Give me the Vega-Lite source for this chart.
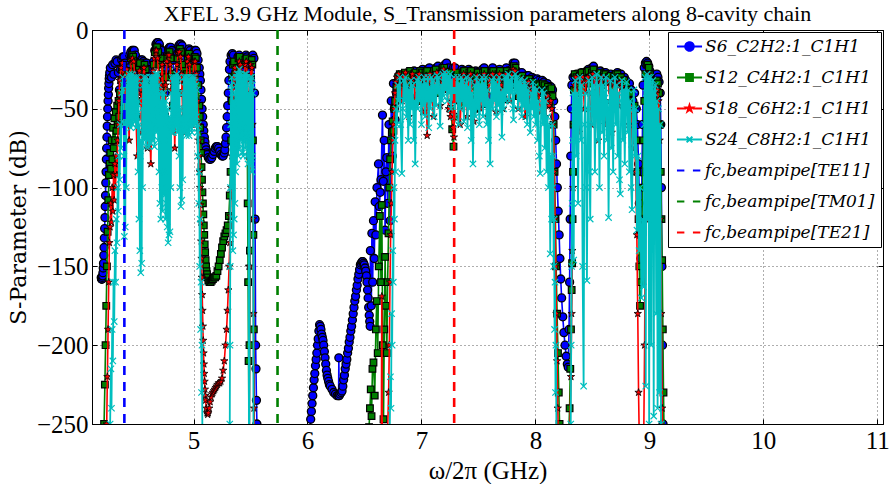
{
  "$schema": "https://vega.github.io/schema/vega-lite/v6.json",
  "width": 791,
  "height": 394,
  "autosize": {"type": "none"},
  "padding": {"left": 92, "top": 30, "right": 10, "bottom": 60},
  "background": "white",
  "title": {
    "text": "XFEL 3.9 GHz Module, S_Transmission parameters along 8-cavity chain",
    "font": "Liberation Serif", "fontSize": 22, "fontWeight": "normal", "color": "#000", "offset": 4, "dy": 12, "anchor": "middle"
  },
  "config": {
    "view": {"stroke": "#000", "strokeWidth": 1},
    "axis": {
      "domainColor": "#000", "tickColor": "#000", "labelColor": "#000", "titleColor": "#000",
      "gridColor": "#000", "gridDash": [1, 3], "gridOpacity": 0.8, "gridWidth": 0.8,
      "labelFont": "Liberation Serif", "labelFontSize": 25,
      "titleFont": "Liberation Serif", "titleFontSize": 25, "titleFontWeight": "normal",
      "tickSize": -5, "tickWidth": 1
    }
  },
  "datasets": {
    "s6": [
      {"f":4.19,"d":-157},{"f":4.1925,"d":-158},{"f":4.195,"d":-158},{"f":4.1975,"d":-158},{"f":4.2,"d":-157},{"f":4.2025,"d":-156},{"f":4.205,"d":-154},{"f":4.2075,"d":-151},{"f":4.21,"d":-148},{"f":4.2125,"d":-143},{"f":4.215,"d":-138},{"f":4.2175,"d":-132},{"f":4.22,"d":-126},{"f":4.2225,"d":-119},{"f":4.225,"d":-112},{"f":4.2275,"d":-105},{"f":4.23,"d":-97},{"f":4.2325,"d":-90},{"f":4.235,"d":-82},{"f":4.2375,"d":-75},{"f":4.24,"d":-68},{"f":4.2425,"d":-61},{"f":4.245,"d":-55},{"f":4.2475,"d":-50},{"f":4.25,"d":-45},{"f":4.2525,"d":-41},{"f":4.255,"d":-37},{"f":4.2575,"d":-34},{"f":4.26,"d":-31},{"f":4.2625,"d":-29},{"f":4.265,"d":-27},
      {"f":4.27,"d":-24},{"f":4.28,"d":-30},{"f":4.29,"d":-22},{"f":4.3,"d":-28},{"f":4.31,"d":-21},{"f":4.32,"d":-19},{"f":4.33,"d":-20},{"f":4.34,"d":-27},{"f":4.35,"d":-38},{"f":4.36,"d":-25},{"f":4.37,"d":-19},{"f":4.38,"d":-17},{"f":4.39,"d":-17},{"f":4.4,"d":-21},{"f":4.41,"d":-30},{"f":4.42,"d":-40},{"f":4.43,"d":-24},{"f":4.44,"d":-16},{"f":4.45,"d":-14},{"f":4.46,"d":-13},{"f":4.47,"d":-13},{"f":4.48,"d":-13},{"f":4.49,"d":-16},{"f":4.5,"d":-24},{"f":4.51,"d":-38},{"f":4.52,"d":-30},{"f":4.53,"d":-22},{"f":4.54,"d":-19},{"f":4.55,"d":-19},{"f":4.56,"d":-20},{"f":4.57,"d":-22},{"f":4.58,"d":-21},{"f":4.59,"d":-21},{"f":4.6,"d":-25},{"f":4.61,"d":-34},{"f":4.62,"d":-45},{"f":4.63,"d":-42},{"f":4.64,"d":-30},{"f":4.65,"d":-20},{"f":4.66,"d":-13},{"f":4.67,"d":-9},{"f":4.68,"d":-8},{"f":4.69,"d":-8},{"f":4.7,"d":-9},{"f":4.71,"d":-12},{"f":4.72,"d":-13},{"f":4.73,"d":-17},{"f":4.74,"d":-28},{"f":4.75,"d":-40},{"f":4.76,"d":-25},{"f":4.77,"d":-16},{"f":4.78,"d":-12},{"f":4.79,"d":-11},{"f":4.8,"d":-11},{"f":4.81,"d":-13},{"f":4.82,"d":-19},{"f":4.83,"d":-32},{"f":4.84,"d":-45},{"f":4.85,"d":-27},{"f":4.86,"d":-15},{"f":4.87,"d":-10},{"f":4.88,"d":-9},{"f":4.89,"d":-9},{"f":4.9,"d":-10},{"f":4.91,"d":-14},{"f":4.92,"d":-24},{"f":4.93,"d":-38},{"f":4.94,"d":-22},{"f":4.95,"d":-14},{"f":4.96,"d":-12},{"f":4.97,"d":-13},{"f":4.98,"d":-17},{"f":4.99,"d":-27},{"f":5.0,"d":-18},{"f":5.01,"d":-13},{"f":5.02,"d":-13},{"f":5.03,"d":-15},{"f":5.04,"d":-19},{"f":5.05,"d":-24},
      {"f":5.055,"d":-28},{"f":5.06,"d":-32},{"f":5.065,"d":-38},{"f":5.07,"d":-44},{"f":5.075,"d":-50},{"f":5.08,"d":-55},{"f":5.085,"d":-60},{"f":5.09,"d":-64},{"f":5.095,"d":-68},{"f":5.1,"d":-71},{"f":5.105,"d":-74},{"f":5.11,"d":-76},{"f":5.115,"d":-78},{"f":5.12,"d":-79},{"f":5.13,"d":-81},{"f":5.14,"d":-82},{"f":5.15,"d":-82},{"f":5.16,"d":-81},{"f":5.17,"d":-79},{"f":5.18,"d":-77},{"f":5.19,"d":-75},{"f":5.2,"d":-74},{"f":5.21,"d":-74},{"f":5.22,"d":-75},{"f":5.23,"d":-77},{"f":5.24,"d":-79},{"f":5.25,"d":-80},{"f":5.26,"d":-80},{"f":5.27,"d":-78},{"f":5.275,"d":-76},{"f":5.28,"d":-72},{"f":5.285,"d":-68},{"f":5.29,"d":-62},{"f":5.295,"d":-55},{"f":5.3,"d":-48},{"f":5.305,"d":-40},{"f":5.31,"d":-32},{"f":5.315,"d":-25},{"f":5.32,"d":-20},{"f":5.33,"d":-16},
      {"f":5.34,"d":-15},{"f":5.35,"d":-16},{"f":5.36,"d":-22},{"f":5.37,"d":-35},{"f":5.38,"d":-24},{"f":5.39,"d":-17},{"f":5.4,"d":-16},{"f":5.41,"d":-18},{"f":5.42,"d":-28},{"f":5.43,"d":-45},{"f":5.44,"d":-25},{"f":5.45,"d":-17},{"f":5.46,"d":-16},{"f":5.47,"d":-17},{"f":5.48,"d":-20},{"f":5.49,"d":-30},{"f":5.5,"d":-22},{"f":5.51,"d":-17},{"f":5.52,"d":-16},{"f":5.53,"d":-18},{"f":5.535,"d":-40},{"f":5.54,"d":-120},{"f":5.545,"d":-200},{"f":5.548,"d":-215},{"f":5.552,"d":-235},{"f":5.556,"d":-250},{"f":5.56,"d":-262},{"f":5.8,"d":-330},{"f":6.012,"d":-262},
      {"f":6.02,"d":-253},{"f":6.028,"d":-247},{"f":6.034,"d":-242},{"f":6.04,"d":-237},{"f":6.046,"d":-232},{"f":6.052,"d":-227},{"f":6.058,"d":-222},{"f":6.064,"d":-218},{"f":6.07,"d":-213},{"f":6.076,"d":-209},{"f":6.082,"d":-205},{"f":6.088,"d":-200},{"f":6.094,"d":-196},{"f":6.1,"d":-191},{"f":6.106,"d":-187},{"f":6.112,"d":-188},{"f":6.118,"d":-190},{"f":6.124,"d":-193},{"f":6.13,"d":-195},{"f":6.136,"d":-197},{"f":6.142,"d":-200},{"f":6.148,"d":-204},{"f":6.154,"d":-208},{"f":6.16,"d":-212},{"f":6.166,"d":-216},{"f":6.172,"d":-219},{"f":6.178,"d":-221},{"f":6.185,"d":-223},{"f":6.192,"d":-225},{"f":6.2,"d":-226},{"f":6.215,"d":-228},{"f":6.23,"d":-230},{"f":6.245,"d":-231},{"f":6.26,"d":-232},{"f":6.273,"d":-232},{"f":6.275,"d":-208},{"f":6.278,"d":-232},{"f":6.285,"d":-231},{"f":6.295,"d":-230},{"f":6.303,"d":-229},{"f":6.31,"d":-226},{"f":6.317,"d":-222},{"f":6.324,"d":-219},{"f":6.331,"d":-215},{"f":6.338,"d":-212},{"f":6.345,"d":-209},{"f":6.352,"d":-205},{"f":6.359,"d":-202},{"f":6.366,"d":-198},{"f":6.373,"d":-195},{"f":6.38,"d":-191},{"f":6.387,"d":-188},{"f":6.394,"d":-184},{"f":6.401,"d":-180},{"f":6.408,"d":-176},{"f":6.415,"d":-172},{"f":6.422,"d":-169},{"f":6.429,"d":-165},{"f":6.436,"d":-162},{"f":6.443,"d":-158},{"f":6.45,"d":-155},{"f":6.457,"d":-152},{"f":6.464,"d":-149},{"f":6.471,"d":-148},{"f":6.479,"d":-147},{"f":6.486,"d":-147},{"f":6.492,"d":-148},{"f":6.498,"d":-149},{"f":6.505,"d":-151},{"f":6.511,"d":-153},{"f":6.517,"d":-156},{"f":6.522,"d":-160},{"f":6.527,"d":-165},{"f":6.532,"d":-170},{"f":6.537,"d":-176},{"f":6.542,"d":-181},{"f":6.546,"d":-185},{"f":6.55,"d":-188},
      {"f":6.552,"d":-140},{"f":6.56,"d":-175},{"f":6.565,"d":-129},{"f":6.572,"d":-160},{"f":6.579,"d":-121},{"f":6.586,"d":-145},{"f":6.594,"d":-109},{"f":6.6,"d":-130},{"f":6.61,"d":-100},{"f":6.623,"d":-85},{"f":6.63,"d":-112},{"f":6.638,"d":-103},{"f":6.645,"d":-95},{"f":6.658,"d":-54},{"f":6.665,"d":-96},{"f":6.673,"d":-70},{"f":6.681,"d":-127},{"f":6.688,"d":-90},{"f":6.696,"d":-81},{"f":6.705,"d":-110},{"f":6.715,"d":-60},{"f":6.725,"d":-121},{"f":6.735,"d":-45},{"f":6.745,"d":-80},{"f":6.754,"d":-34},{"f":6.762,"d":-50},{"f":6.769,"d":-57},{"f":6.78,"d":-40},{"f":6.798,"d":-37},{"f":6.81,"d":-30},{"f":6.827,"d":-32},
      {"f":6.845,"d":-28},{"f":6.86,"d":-36},{"f":6.875,"d":-29},{"f":6.89,"d":-27},{"f":6.905,"d":-33},{"f":6.92,"d":-28},{"f":6.935,"d":-26},{"f":6.95,"d":-31},{"f":6.965,"d":-42},{"f":6.98,"d":-29},{"f":6.995,"d":-26},{"f":7.01,"d":-25},{"f":7.025,"d":-30},{"f":7.04,"d":-27},{"f":7.055,"d":-25},{"f":7.07,"d":-24},{"f":7.085,"d":-29},{"f":7.1,"d":-38},{"f":7.115,"d":-27},{"f":7.13,"d":-24},{"f":7.145,"d":-23},{"f":7.16,"d":-26},{"f":7.175,"d":-33},{"f":7.19,"d":-25},{"f":7.205,"d":-22},{"f":7.22,"d":-21},{"f":7.235,"d":-24},{"f":7.25,"d":-30},{"f":7.265,"d":-26},{"f":7.28,"d":-24},{"f":7.295,"d":-24},{"f":7.31,"d":-28},{"f":7.325,"d":-40},{"f":7.34,"d":-28},{"f":7.355,"d":-25},{"f":7.37,"d":-26},{"f":7.385,"d":-32},{"f":7.4,"d":-27},{"f":7.415,"d":-25},{"f":7.43,"d":-26},{"f":7.445,"d":-35},{"f":7.46,"d":-28},{"f":7.475,"d":-26},{"f":7.49,"d":-27},{"f":7.505,"d":-33},{"f":7.52,"d":-27},{"f":7.535,"d":-25},{"f":7.55,"d":-24},{"f":7.565,"d":-29},{"f":7.58,"d":-42},{"f":7.595,"d":-28},{"f":7.61,"d":-26},{"f":7.625,"d":-24},{"f":7.64,"d":-27},{"f":7.655,"d":-33},{"f":7.67,"d":-26},{"f":7.685,"d":-25},{"f":7.7,"d":-27},{"f":7.715,"d":-36},{"f":7.73,"d":-28},{"f":7.745,"d":-24},{"f":7.76,"d":-26},{"f":7.775,"d":-31},{"f":7.79,"d":-25},{"f":7.805,"d":-21},{"f":7.82,"d":-21},{"f":7.835,"d":-26},{"f":7.85,"d":-34},{"f":7.865,"d":-28},{"f":7.88,"d":-27},{"f":7.895,"d":-30},{"f":7.91,"d":-38},{"f":7.925,"d":-29},{"f":7.94,"d":-29},{"f":7.955,"d":-32},{"f":7.97,"d":-30},{"f":7.985,"d":-31},{"f":8.0,"d":-35},{"f":8.015,"d":-31},{"f":8.03,"d":-32},{"f":8.045,"d":-36},{"f":8.06,"d":-32},{"f":8.075,"d":-33},{"f":8.09,"d":-35},{"f":8.105,"d":-34},{"f":8.12,"d":-36},{"f":8.135,"d":-36},{"f":8.15,"d":-38},{"f":8.16,"d":-45},
      {"f":8.17,"d":-55},{"f":8.178,"d":-70},{"f":8.185,"d":-85},{"f":8.192,"d":-100},{"f":8.2,"d":-115},{"f":8.208,"d":-130},{"f":8.215,"d":-145},{"f":8.222,"d":-158},{"f":8.23,"d":-170},{"f":8.24,"d":-182},{"f":8.25,"d":-192},{"f":8.26,"d":-200},{"f":8.27,"d":-207},{"f":8.28,"d":-212},{"f":8.288,"d":-214},
      {"f":8.295,"d":-190},{"f":8.3,"d":-160},{"f":8.305,"d":-120},{"f":8.31,"d":-80},{"f":8.315,"d":-50},{"f":8.32,"d":-35},{"f":8.33,"d":-30},
      {"f":8.345,"d":-29},{"f":8.36,"d":-28},{"f":8.375,"d":-33},{"f":8.39,"d":-28},{"f":8.405,"d":-27},{"f":8.42,"d":-34},{"f":8.435,"d":-28},{"f":8.45,"d":-26},{"f":8.465,"d":-25},{"f":8.48,"d":-30},{"f":8.495,"d":-24},{"f":8.51,"d":-23},{"f":8.525,"d":-26},{"f":8.54,"d":-33},{"f":8.555,"d":-27},{"f":8.57,"d":-26},{"f":8.585,"d":-31},{"f":8.6,"d":-27},{"f":8.615,"d":-27},{"f":8.63,"d":-30},{"f":8.645,"d":-29},{"f":8.66,"d":-28},{"f":8.675,"d":-33},{"f":8.69,"d":-29},{"f":8.705,"d":-28},{"f":8.72,"d":-27},{"f":8.735,"d":-28},{"f":8.75,"d":-28},{"f":8.765,"d":-31},{"f":8.78,"d":-30},{"f":8.795,"d":-32},{"f":8.81,"d":-36},{"f":8.825,"d":-34},{"f":8.84,"d":-38},{"f":8.855,"d":-45},{"f":8.87,"d":-40},{"f":8.885,"d":-50},
      {"f":8.895,"d":-60},{"f":8.905,"d":-85},{"f":8.912,"d":-110},{"f":8.918,"d":-130},{"f":8.925,"d":-145},{"f":8.93,"d":-120},{"f":8.935,"d":-90},{"f":8.94,"d":-60},{"f":8.945,"d":-35},{"f":8.955,"d":-24},{"f":8.965,"d":-21},{"f":8.975,"d":-20},{"f":8.985,"d":-21},{"f":8.995,"d":-23},{"f":9.005,"d":-26},{"f":9.015,"d":-30},{"f":9.025,"d":-36},{"f":9.035,"d":-44},{"f":9.045,"d":-38},{"f":9.055,"d":-30},{"f":9.065,"d":-28},{"f":9.075,"d":-30},{"f":9.085,"d":-33},{"f":9.095,"d":-40},{"f":9.1,"d":-60},{"f":9.105,"d":-100},{"f":9.11,"d":-150},{"f":9.115,"d":-200},{"f":9.12,"d":-250},{"f":9.125,"d":-262}
    ],
    "s12": [
      {"f":4.2,"d":-300},{"f":4.215,"d":-250},{"f":4.222,"d":-225},{"f":4.228,"d":-200},{"f":4.234,"d":-175},{"f":4.24,"d":-150},{"f":4.246,"d":-128},{"f":4.252,"d":-108},{"f":4.258,"d":-92},{"f":4.264,"d":-85},{"f":4.27,"d":-78},{"f":4.276,"d":-88},{"f":4.282,"d":-70},{"f":4.288,"d":-82},{"f":4.294,"d":-62},{"f":4.3,"d":-75},{"f":4.306,"d":-56},{"f":4.312,"d":-70},{"f":4.318,"d":-52},{"f":4.324,"d":-64},{"f":4.33,"d":-48},{"f":4.336,"d":-60},{"f":4.342,"d":-45},{"f":4.348,"d":-55},{"f":4.354,"d":-40},{"f":4.36,"d":-50},{"f":4.366,"d":-32},{"f":4.372,"d":-25},
      {"f":4.38,"d":-22},{"f":4.39,"d":-30},{"f":4.4,"d":-45},{"f":4.41,"d":-26},{"f":4.42,"d":-35},{"f":4.43,"d":-50},{"f":4.44,"d":-26},{"f":4.45,"d":-18},{"f":4.46,"d":-16},{"f":4.47,"d":-17},{"f":4.48,"d":-22},{"f":4.49,"d":-38},{"f":4.5,"d":-55},{"f":4.51,"d":-35},{"f":4.52,"d":-24},{"f":4.53,"d":-21},{"f":4.54,"d":-28},{"f":4.55,"d":-45},{"f":4.56,"d":-26},{"f":4.57,"d":-22},{"f":4.58,"d":-25},{"f":4.59,"d":-38},{"f":4.6,"d":-52},{"f":4.61,"d":-35},{"f":4.62,"d":-45},{"f":4.63,"d":-60},{"f":4.64,"d":-35},{"f":4.65,"d":-22},{"f":4.66,"d":-14},{"f":4.67,"d":-11},{"f":4.68,"d":-11},{"f":4.69,"d":-14},{"f":4.7,"d":-22},{"f":4.71,"d":-40},{"f":4.72,"d":-28},{"f":4.73,"d":-18},{"f":4.74,"d":-30},{"f":4.75,"d":-55},{"f":4.76,"d":-30},{"f":4.77,"d":-18},{"f":4.78,"d":-14},{"f":4.79,"d":-14},{"f":4.8,"d":-18},{"f":4.81,"d":-28},{"f":4.82,"d":-48},{"f":4.83,"d":-30},{"f":4.84,"d":-58},{"f":4.85,"d":-32},{"f":4.86,"d":-18},{"f":4.87,"d":-13},{"f":4.88,"d":-12},{"f":4.89,"d":-14},{"f":4.9,"d":-22},{"f":4.91,"d":-40},{"f":4.92,"d":-26},{"f":4.93,"d":-50},{"f":4.94,"d":-28},{"f":4.95,"d":-17},{"f":4.96,"d":-15},{"f":4.97,"d":-18},{"f":4.98,"d":-30},{"f":4.99,"d":-45},{"f":5.0,"d":-24},{"f":5.01,"d":-17},{"f":5.02,"d":-18},{"f":5.03,"d":-24},{"f":5.04,"d":-35},
      {"f":5.05,"d":-48},{"f":5.054,"d":-55},{"f":5.058,"d":-62},{"f":5.062,"d":-70},{"f":5.066,"d":-78},{"f":5.07,"d":-87},{"f":5.074,"d":-95},{"f":5.078,"d":-103},{"f":5.082,"d":-110},{"f":5.086,"d":-117},{"f":5.09,"d":-124},{"f":5.094,"d":-130},{"f":5.098,"d":-136},{"f":5.102,"d":-141},{"f":5.106,"d":-146},{"f":5.11,"d":-150},{"f":5.114,"d":-153},{"f":5.118,"d":-155},{"f":5.122,"d":-157},{"f":5.13,"d":-159},{"f":5.14,"d":-160},{"f":5.15,"d":-160},{"f":5.16,"d":-159},{"f":5.17,"d":-158},{"f":5.18,"d":-157},{"f":5.19,"d":-157},{"f":5.2,"d":-156},{"f":5.21,"d":-153},{"f":5.22,"d":-150},{"f":5.23,"d":-146},{"f":5.24,"d":-142},{"f":5.25,"d":-138},{"f":5.26,"d":-134},{"f":5.27,"d":-131},{"f":5.28,"d":-129},{"f":5.29,"d":-127},{"f":5.3,"d":-124},{"f":5.31,"d":-118},{"f":5.318,"d":-105},{"f":5.325,"d":-90},{"f":5.33,"d":-70},{"f":5.335,"d":-45},{"f":5.34,"d":-30},{"f":5.345,"d":-22},
      {"f":5.355,"d":-20},{"f":5.365,"d":-28},{"f":5.375,"d":-45},{"f":5.385,"d":-24},{"f":5.395,"d":-18},{"f":5.405,"d":-17},{"f":5.415,"d":-22},{"f":5.425,"d":-38},{"f":5.435,"d":-55},{"f":5.445,"d":-28},{"f":5.455,"d":-19},{"f":5.465,"d":-18},{"f":5.471,"d":-60},{"f":5.475,"d":-110},{"f":5.479,"d":-160},{"f":5.483,"d":-210},{"f":5.487,"d":-262},{"f":5.491,"d":-200},{"f":5.495,"d":-140},{"f":5.499,"d":-80},{"f":5.503,"d":-30},{"f":5.51,"d":-19},{"f":5.516,"d":-22},{"f":5.521,"d":-70},{"f":5.525,"d":-130},{"f":5.529,"d":-190},{"f":5.533,"d":-262},{"f":6.0,"d":-330},
      {"f":6.48,"d":-300},{"f":6.54,"d":-252},{"f":6.548,"d":-240},{"f":6.555,"d":-228},{"f":6.562,"d":-245},{"f":6.57,"d":-215},{"f":6.579,"d":-211},{"f":6.59,"d":-232},{"f":6.6,"d":-190},{"f":6.608,"d":-172},{"f":6.616,"d":-205},{"f":6.625,"d":-150},{"f":6.635,"d":-118},{"f":6.645,"d":-160},{"f":6.652,"d":-111},{"f":6.66,"d":-200},{"f":6.667,"d":-247},{"f":6.674,"d":-190},{"f":6.681,"d":-144},{"f":6.688,"d":-175},{"f":6.696,"d":-205},{"f":6.703,"d":-160},{"f":6.711,"d":-129},{"f":6.718,"d":-100},{"f":6.725,"d":-82},{"f":6.733,"d":-70},{"f":6.74,"d":-65},{"f":6.747,"d":-58},{"f":6.754,"d":-64},{"f":6.762,"d":-50},{"f":6.769,"d":-45},{"f":6.78,"d":-36},{"f":6.795,"d":-30},
      {"f":6.81,"d":-28},{"f":6.825,"d":-35},{"f":6.84,"d":-30},{"f":6.855,"d":-27},{"f":6.87,"d":-40},{"f":6.885,"d":-29},{"f":6.9,"d":-26},{"f":6.915,"d":-34},{"f":6.93,"d":-28},{"f":6.945,"d":-27},{"f":6.96,"d":-45},{"f":6.975,"d":-30},{"f":6.99,"d":-26},{"f":7.005,"d":-27},{"f":7.02,"d":-36},{"f":7.035,"d":-27},{"f":7.05,"d":-26},{"f":7.065,"d":-30},{"f":7.08,"d":-44},{"f":7.095,"d":-30},{"f":7.11,"d":-26},{"f":7.125,"d":-25},{"f":7.14,"d":-29},{"f":7.155,"d":-40},{"f":7.17,"d":-28},{"f":7.185,"d":-24},{"f":7.2,"d":-24},{"f":7.215,"d":-28},{"f":7.23,"d":-36},{"f":7.245,"d":-27},{"f":7.26,"d":-50},{"f":7.27,"d":-63},{"f":7.281,"d":-74},{"f":7.29,"d":-55},{"f":7.3,"d":-30},{"f":7.315,"d":-27},{"f":7.33,"d":-33},{"f":7.345,"d":-48},{"f":7.36,"d":-28},{"f":7.375,"d":-26},{"f":7.39,"d":-30},{"f":7.405,"d":-42},{"f":7.42,"d":-27},{"f":7.435,"d":-26},{"f":7.45,"d":-31},{"f":7.465,"d":-50},{"f":7.48,"d":-29},{"f":7.495,"d":-27},{"f":7.51,"d":-30},{"f":7.525,"d":-38},{"f":7.54,"d":-27},{"f":7.555,"d":-26},{"f":7.57,"d":-33},{"f":7.585,"d":-47},{"f":7.6,"d":-30},{"f":7.615,"d":-27},{"f":7.63,"d":-26},{"f":7.645,"d":-32},{"f":7.66,"d":-40},{"f":7.675,"d":-28},{"f":7.69,"d":-26},{"f":7.705,"d":-30},{"f":7.72,"d":-44},{"f":7.735,"d":-29},{"f":7.75,"d":-26},{"f":7.765,"d":-28},{"f":7.78,"d":-35},{"f":7.795,"d":-27},{"f":7.81,"d":-23},{"f":7.825,"d":-24},{"f":7.84,"d":-30},{"f":7.855,"d":-42},{"f":7.87,"d":-30},{"f":7.885,"d":-29},{"f":7.9,"d":-35},{"f":7.915,"d":-45},{"f":7.93,"d":-31},{"f":7.945,"d":-31},{"f":7.96,"d":-36},{"f":7.975,"d":-33},{"f":7.99,"d":-35},{"f":8.005,"d":-42},{"f":8.02,"d":-34},{"f":8.035,"d":-35},{"f":8.05,"d":-40},{"f":8.065,"d":-34},{"f":8.08,"d":-35},{"f":8.095,"d":-38},{"f":8.11,"d":-36},{"f":8.125,"d":-38},{"f":8.14,"d":-37},{"f":8.15,"d":-42},
      {"f":8.16,"d":-60},{"f":8.168,"d":-90},{"f":8.175,"d":-120},{"f":8.182,"d":-150},{"f":8.19,"d":-180},{"f":8.198,"d":-205},{"f":8.205,"d":-230},{"f":8.212,"d":-250},{"f":8.22,"d":-262},{"f":8.29,"d":-262},{"f":8.3,"d":-240},{"f":8.306,"d":-215},{"f":8.312,"d":-190},{"f":8.318,"d":-165},{"f":8.322,"d":-148},{"f":8.326,"d":-120},{"f":8.33,"d":-90},{"f":8.334,"d":-60},{"f":8.338,"d":-38},{"f":8.345,"d":-28},
      {"f":8.36,"d":-30},{"f":8.375,"d":-40},{"f":8.39,"d":-29},{"f":8.405,"d":-27},{"f":8.42,"d":-38},{"f":8.435,"d":-30},{"f":8.45,"d":-27},{"f":8.465,"d":-26},{"f":8.48,"d":-34},{"f":8.495,"d":-27},{"f":8.51,"d":-25},{"f":8.525,"d":-28},{"f":8.54,"d":-40},{"f":8.555,"d":-29},{"f":8.57,"d":-27},{"f":8.585,"d":-35},{"f":8.6,"d":-28},{"f":8.615,"d":-28},{"f":8.63,"d":-33},{"f":8.645,"d":-30},{"f":8.66,"d":-29},{"f":8.675,"d":-38},{"f":8.69,"d":-30},{"f":8.705,"d":-28},{"f":8.72,"d":-28},{"f":8.735,"d":-30},{"f":8.75,"d":-30},{"f":8.765,"d":-34},{"f":8.78,"d":-32},{"f":8.795,"d":-34},{"f":8.81,"d":-38},{"f":8.825,"d":-45},{"f":8.84,"d":-40},{"f":8.855,"d":-55},{"f":8.87,"d":-48},{"f":8.885,"d":-70},
      {"f":8.895,"d":-90},{"f":8.905,"d":-120},{"f":8.912,"d":-150},{"f":8.918,"d":-175},{"f":8.925,"d":-160},{"f":8.932,"d":-130},{"f":8.94,"d":-100},{"f":8.948,"d":-70},{"f":8.955,"d":-45},{"f":8.965,"d":-28},{"f":8.975,"d":-22},{"f":8.985,"d":-22},{"f":8.995,"d":-24},{"f":9.005,"d":-28},{"f":9.015,"d":-34},{"f":9.025,"d":-42},{"f":9.035,"d":-50},{"f":9.045,"d":-45},{"f":9.055,"d":-36},{"f":9.065,"d":-32},{"f":9.075,"d":-34},{"f":9.085,"d":-40},{"f":9.093,"d":-60},{"f":9.1,"d":-90},{"f":9.106,"d":-120},{"f":9.112,"d":-146},{"f":9.118,"d":-190},{"f":9.124,"d":-230},{"f":9.13,"d":-262}
    ],
    "s18": [
      {"f":4.22,"d":-300},{"f":4.238,"d":-250},{"f":4.244,"d":-220},{"f":4.25,"d":-190},{"f":4.256,"d":-160},{"f":4.262,"d":-135},{"f":4.268,"d":-125},{"f":4.274,"d":-110},{"f":4.28,"d":-122},{"f":4.286,"d":-100},{"f":4.292,"d":-115},{"f":4.298,"d":-92},{"f":4.304,"d":-108},{"f":4.31,"d":-85},{"f":4.316,"d":-100},{"f":4.322,"d":-80},{"f":4.328,"d":-92},{"f":4.334,"d":-70},{"f":4.34,"d":-60},{"f":4.346,"d":-45},{"f":4.352,"d":-32},
      {"f":4.365,"d":-24},{"f":4.375,"d":-21},{"f":4.385,"d":-30},{"f":4.395,"d":-60},{"f":4.405,"d":-35},{"f":4.415,"d":-25},{"f":4.425,"d":-45},{"f":4.435,"d":-70},{"f":4.445,"d":-30},{"f":4.455,"d":-19},{"f":4.465,"d":-18},{"f":4.475,"d":-20},{"f":4.485,"d":-30},{"f":4.495,"d":-55},{"f":4.505,"d":-80},{"f":4.515,"d":-40},{"f":4.525,"d":-26},{"f":4.535,"d":-35},{"f":4.545,"d":-65},{"f":4.555,"d":-30},{"f":4.565,"d":-24},{"f":4.575,"d":-30},{"f":4.585,"d":-55},{"f":4.595,"d":-75},{"f":4.605,"d":-40},{"f":4.615,"d":-60},{"f":4.625,"d":-85},{"f":4.635,"d":-45},{"f":4.645,"d":-26},{"f":4.655,"d":-18},{"f":4.665,"d":-13},{"f":4.675,"d":-13},{"f":4.685,"d":-18},{"f":4.695,"d":-30},{"f":4.705,"d":-60},{"f":4.715,"d":-35},{"f":4.725,"d":-22},{"f":4.735,"d":-40},{"f":4.745,"d":-70},{"f":4.755,"d":-35},{"f":4.765,"d":-20},{"f":4.775,"d":-16},{"f":4.785,"d":-16},{"f":4.795,"d":-22},{"f":4.805,"d":-38},{"f":4.815,"d":-65},{"f":4.825,"d":-35},{"f":4.835,"d":-75},{"f":4.845,"d":-40},{"f":4.855,"d":-22},{"f":4.865,"d":-15},{"f":4.875,"d":-14},{"f":4.885,"d":-17},{"f":4.895,"d":-28},{"f":4.905,"d":-55},{"f":4.915,"d":-32},{"f":4.925,"d":-65},{"f":4.935,"d":-35},{"f":4.945,"d":-20},{"f":4.955,"d":-17},{"f":4.965,"d":-22},{"f":4.975,"d":-40},{"f":4.985,"d":-60},{"f":4.995,"d":-30},{"f":5.005,"d":-20},{"f":5.015,"d":-20},{"f":5.025,"d":-28},{"f":5.035,"d":-45},
      {"f":5.045,"d":-60},{"f":5.048,"d":-70},{"f":5.052,"d":-80},{"f":5.055,"d":-90},{"f":5.058,"d":-100},{"f":5.061,"d":-111},{"f":5.064,"d":-122},{"f":5.067,"d":-134},{"f":5.07,"d":-145},{"f":5.073,"d":-157},{"f":5.076,"d":-168},{"f":5.079,"d":-178},{"f":5.082,"d":-188},{"f":5.085,"d":-197},{"f":5.088,"d":-205},{"f":5.091,"d":-212},{"f":5.094,"d":-218},{"f":5.097,"d":-223},{"f":5.1,"d":-228},{"f":5.103,"d":-232},{"f":5.106,"d":-235},{"f":5.112,"d":-240},{"f":5.118,"d":-243},{"f":5.124,"d":-244},{"f":5.13,"d":-243},{"f":5.138,"d":-240},{"f":5.146,"d":-236},{"f":5.154,"d":-233},{"f":5.162,"d":-231},{"f":5.17,"d":-230},{"f":5.178,"d":-229},{"f":5.186,"d":-228},{"f":5.194,"d":-227},{"f":5.202,"d":-226},{"f":5.21,"d":-225},{"f":5.22,"d":-224},{"f":5.23,"d":-224},{"f":5.24,"d":-223},{"f":5.25,"d":-221},{"f":5.26,"d":-216},
      {"f":5.27,"d":-210},{"f":5.28,"d":-200},{"f":5.29,"d":-190},{"f":5.298,"d":-178},{"f":5.305,"d":-165},{"f":5.312,"d":-150},{"f":5.318,"d":-135},{"f":5.324,"d":-118},{"f":5.33,"d":-100},{"f":5.336,"d":-80},{"f":5.342,"d":-60},{"f":5.348,"d":-42},{"f":5.354,"d":-30},
      {"f":5.362,"d":-24},{"f":5.372,"d":-35},{"f":5.382,"d":-55},{"f":5.392,"d":-28},{"f":5.402,"d":-20},{"f":5.412,"d":-22},{"f":5.422,"d":-40},{"f":5.432,"d":-65},{"f":5.442,"d":-32},{"f":5.452,"d":-22},{"f":5.462,"d":-20},{"f":5.472,"d":-30},{"f":5.482,"d":-45},{"f":5.486,"d":-150},{"f":5.49,"d":-262},{"f":5.494,"d":-150},{"f":5.498,"d":-40},{"f":5.502,"d":-22},{"f":5.512,"d":-24},{"f":5.518,"d":-60},{"f":5.522,"d":-120},{"f":5.526,"d":-180},{"f":5.53,"d":-240},{"f":5.534,"d":-262},{"f":6.1,"d":-330},
      {"f":6.6,"d":-300},{"f":6.648,"d":-262},{"f":6.652,"d":-169},{"f":6.656,"d":-262},{"f":6.7,"d":-262},{"f":6.712,"d":-230},{"f":6.718,"d":-200},{"f":6.724,"d":-160},{"f":6.73,"d":-130},{"f":6.736,"d":-110},{"f":6.742,"d":-90},{"f":6.748,"d":-70},{"f":6.754,"d":-60},{"f":6.76,"d":-50},{"f":6.768,"d":-40},{"f":6.776,"d":-33},{"f":6.785,"d":-30},
      {"f":6.8,"d":-28},{"f":6.815,"d":-34},{"f":6.83,"d":-45},{"f":6.845,"d":-30},{"f":6.86,"d":-27},{"f":6.875,"d":-38},{"f":6.89,"d":-55},{"f":6.905,"d":-32},{"f":6.92,"d":-28},{"f":6.935,"d":-35},{"f":6.95,"d":-48},{"f":6.965,"d":-30},{"f":6.98,"d":-28},{"f":6.995,"d":-36},{"f":7.01,"d":-52},{"f":7.025,"d":-32},{"f":7.04,"d":-29},{"f":7.05,"d":-67},{"f":7.06,"d":-35},{"f":7.075,"d":-28},{"f":7.09,"d":-40},{"f":7.105,"d":-55},{"f":7.12,"d":-30},{"f":7.135,"d":-27},{"f":7.15,"d":-33},{"f":7.165,"d":-48},{"f":7.18,"d":-28},{"f":7.195,"d":-25},{"f":7.21,"d":-27},{"f":7.225,"d":-38},{"f":7.24,"d":-50},{"f":7.255,"d":-55},{"f":7.265,"d":-45},{"f":7.275,"d":-62},{"f":7.285,"d":-68},{"f":7.295,"d":-40},{"f":7.31,"d":-30},{"f":7.325,"d":-45},{"f":7.34,"d":-60},{"f":7.355,"d":-30},{"f":7.37,"d":-28},{"f":7.385,"d":-40},{"f":7.4,"d":-55},{"f":7.415,"d":-30},{"f":7.43,"d":-28},{"f":7.445,"d":-42},{"f":7.46,"d":-58},{"f":7.475,"d":-32},{"f":7.49,"d":-29},{"f":7.505,"d":-38},{"f":7.52,"d":-50},{"f":7.535,"d":-30},{"f":7.55,"d":-28},{"f":7.565,"d":-40},{"f":7.58,"d":-55},{"f":7.595,"d":-32},{"f":7.61,"d":-29},{"f":7.625,"d":-28},{"f":7.64,"d":-38},{"f":7.655,"d":-52},{"f":7.67,"d":-30},{"f":7.685,"d":-28},{"f":7.7,"d":-35},{"f":7.715,"d":-50},{"f":7.73,"d":-31},{"f":7.745,"d":-28},{"f":7.76,"d":-32},{"f":7.775,"d":-45},{"f":7.79,"d":-29},{"f":7.805,"d":-25},{"f":7.82,"d":-26},{"f":7.835,"d":-35},{"f":7.85,"d":-50},{"f":7.865,"d":-33},{"f":7.88,"d":-31},{"f":7.895,"d":-40},{"f":7.91,"d":-55},{"f":7.925,"d":-34},{"f":7.94,"d":-33},{"f":7.955,"d":-42},{"f":7.97,"d":-36},{"f":7.985,"d":-38},{"f":8.0,"d":-48},{"f":8.015,"d":-38},{"f":8.03,"d":-40},{"f":8.045,"d":-52},{"f":8.06,"d":-40},{"f":8.075,"d":-42},{"f":8.09,"d":-55},{"f":8.105,"d":-42},{"f":8.12,"d":-48},{"f":8.135,"d":-45},{"f":8.145,"d":-50},{"f":8.155,"d":-60},
      {"f":8.165,"d":-90},{"f":8.172,"d":-120},{"f":8.178,"d":-150},{"f":8.184,"d":-180},{"f":8.19,"d":-210},{"f":8.196,"d":-240},{"f":8.202,"d":-262},{"f":8.3,"d":-262},{"f":8.312,"d":-220},{"f":8.318,"d":-180},{"f":8.324,"d":-140},{"f":8.33,"d":-100},{"f":8.336,"d":-60},{"f":8.342,"d":-35},
      {"f":8.355,"d":-30},{"f":8.37,"d":-45},{"f":8.385,"d":-65},{"f":8.4,"d":-32},{"f":8.415,"d":-30},{"f":8.43,"d":-50},{"f":8.445,"d":-32},{"f":8.46,"d":-30},{"f":8.475,"d":-40},{"f":8.49,"d":-60},{"f":8.505,"d":-28},{"f":8.52,"d":-30},{"f":8.535,"d":-45},{"f":8.55,"d":-70},{"f":8.565,"d":-32},{"f":8.58,"d":-30},{"f":8.595,"d":-42},{"f":8.61,"d":-60},{"f":8.625,"d":-33},{"f":8.64,"d":-32},{"f":8.655,"d":-45},{"f":8.67,"d":-65},{"f":8.685,"d":-34},{"f":8.7,"d":-32},{"f":8.715,"d":-35},{"f":8.73,"d":-48},{"f":8.745,"d":-33},{"f":8.76,"d":-36},{"f":8.775,"d":-50},{"f":8.79,"d":-38},{"f":8.805,"d":-45},{"f":8.82,"d":-60},{"f":8.835,"d":-48},{"f":8.85,"d":-75},{"f":8.865,"d":-60},{"f":8.88,"d":-90},{"f":8.89,"d":-130},{"f":8.898,"d":-180},{"f":8.905,"d":-230},{"f":8.912,"d":-262},{"f":8.95,"d":-262},{"f":8.958,"d":-200},{"f":8.965,"d":-120},{"f":8.972,"d":-60},{"f":8.98,"d":-32},{"f":8.99,"d":-28},{"f":9.0,"d":-30},{"f":9.01,"d":-35},{"f":9.02,"d":-45},{"f":9.03,"d":-60},{"f":9.04,"d":-50},{"f":9.05,"d":-40},{"f":9.06,"d":-36},{"f":9.07,"d":-38},{"f":9.08,"d":-45},{"f":9.09,"d":-70},{"f":9.098,"d":-120},{"f":9.105,"d":-180},{"f":9.112,"d":-240},{"f":9.118,"d":-262}
    ],
    "s24": [
      {"f":4.25,"d":-300},{"f":4.268,"d":-250},{"f":4.275,"d":-215},{"f":4.28,"d":-240},{"f":4.286,"d":-190},{"f":4.292,"d":-210},{"f":4.298,"d":-160},{"f":4.304,"d":-185},{"f":4.31,"d":-140},{"f":4.316,"d":-160},{"f":4.322,"d":-120},{"f":4.328,"d":-135},{"f":4.334,"d":-100},{"f":4.34,"d":-115},{"f":4.346,"d":-80},{"f":4.352,"d":-95},{"f":4.358,"d":-60},{"f":4.364,"d":-75},{"f":4.37,"d":-40},{"f":4.378,"d":-30},
      {"f":4.385,"d":-35},{"f":4.389,"d":-80},{"f":4.393,"d":-131},{"f":4.397,"d":-60},{"f":4.401,"d":-125},{"f":4.405,"d":-45},{"f":4.409,"d":-100},{"f":4.413,"d":-35},{"f":4.417,"d":-60},{"f":4.421,"d":-30},{"f":4.425,"d":-55},{"f":4.429,"d":-32},{"f":4.433,"d":-60},{"f":4.437,"d":-28},{"f":4.441,"d":-50},{"f":4.445,"d":-30},{"f":4.449,"d":-62},{"f":4.453,"d":-33},{"f":4.457,"d":-55},{"f":4.461,"d":-28},{"f":4.465,"d":-60},{"f":4.469,"d":-35},{"f":4.473,"d":-50},{"f":4.477,"d":-30},{"f":4.481,"d":-58},{"f":4.485,"d":-32},{"f":4.489,"d":-45},{"f":4.493,"d":-30},{"f":4.497,"d":-62},{"f":4.501,"d":-35},{"f":4.505,"d":-55},{"f":4.509,"d":-30},{"f":4.513,"d":-90},{"f":4.517,"d":-45},{"f":4.521,"d":-120},{"f":4.525,"d":-60},{"f":4.529,"d":-140},{"f":4.533,"d":-80},{"f":4.537,"d":-154},{"f":4.541,"d":-70},{"f":4.545,"d":-148},{"f":4.549,"d":-50},{"f":4.553,"d":-100},{"f":4.557,"d":-35},{"f":4.561,"d":-65},{"f":4.565,"d":-30},{"f":4.569,"d":-70},{"f":4.573,"d":-35},{"f":4.577,"d":-60},{"f":4.581,"d":-30},{"f":4.585,"d":-74},{"f":4.589,"d":-38},{"f":4.593,"d":-65},{"f":4.597,"d":-32},{"f":4.601,"d":-70},{"f":4.605,"d":-40},{"f":4.609,"d":-74},{"f":4.613,"d":-35},{"f":4.617,"d":-60},{"f":4.621,"d":-30},{"f":4.625,"d":-72},{"f":4.629,"d":-38},{"f":4.633,"d":-65},{"f":4.637,"d":-30},{"f":4.641,"d":-70},{"f":4.645,"d":-35},{"f":4.649,"d":-55},{"f":4.653,"d":-30},{"f":4.657,"d":-74},{"f":4.661,"d":-32},{"f":4.665,"d":-60},{"f":4.669,"d":-28},{"f":4.673,"d":-65},{"f":4.677,"d":-30},{"f":4.681,"d":-50},{"f":4.685,"d":-28},{"f":4.689,"d":-70},{"f":4.693,"d":-35},{"f":4.697,"d":-90},{"f":4.701,"d":-40},{"f":4.705,"d":-110},{"f":4.709,"d":-50},{"f":4.713,"d":-120},{"f":4.717,"d":-45},{"f":4.721,"d":-100},{"f":4.725,"d":-40},{"f":4.729,"d":-115},{"f":4.733,"d":-55},{"f":4.737,"d":-90},{"f":4.741,"d":-40},{"f":4.745,"d":-105},{"f":4.749,"d":-50},{"f":4.753,"d":-120},{"f":4.757,"d":-45},{"f":4.761,"d":-110},{"f":4.765,"d":-60},{"f":4.769,"d":-125},{"f":4.773,"d":-50},{"f":4.777,"d":-135},{"f":4.781,"d":-70},{"f":4.785,"d":-130},{"f":4.789,"d":-55},{"f":4.793,"d":-128},{"f":4.797,"d":-60},{"f":4.801,"d":-100},{"f":4.805,"d":-40},{"f":4.809,"d":-65},{"f":4.813,"d":-30},{"f":4.817,"d":-60},{"f":4.821,"d":-32},{"f":4.825,"d":-65},{"f":4.829,"d":-30},{"f":4.833,"d":-55},{"f":4.837,"d":-35},{"f":4.841,"d":-62},{"f":4.845,"d":-30},{"f":4.849,"d":-58},{"f":4.853,"d":-28},{"f":4.857,"d":-65},{"f":4.861,"d":-32},{"f":4.865,"d":-50},{"f":4.869,"d":-30},{"f":4.873,"d":-80},{"f":4.877,"d":-40},{"f":4.881,"d":-100},{"f":4.885,"d":-50},{"f":4.889,"d":-112},{"f":4.893,"d":-60},{"f":4.897,"d":-108},{"f":4.901,"d":-55},{"f":4.905,"d":-95},{"f":4.909,"d":-40},{"f":4.913,"d":-60},{"f":4.917,"d":-30},{"f":4.921,"d":-65},{"f":4.925,"d":-33},{"f":4.929,"d":-60},{"f":4.933,"d":-30},{"f":4.937,"d":-67},{"f":4.941,"d":-35},{"f":4.945,"d":-55},{"f":4.949,"d":-30},{"f":4.953,"d":-65},{"f":4.957,"d":-32},{"f":4.961,"d":-67},{"f":4.965,"d":-36},{"f":4.969,"d":-58},{"f":4.973,"d":-30},{"f":4.977,"d":-62},{"f":4.981,"d":-34},{"f":4.985,"d":-65},{"f":4.989,"d":-30},{"f":4.993,"d":-55},{"f":4.997,"d":-32},{"f":5.001,"d":-60},{"f":5.005,"d":-30},{"f":5.009,"d":-50},{"f":5.013,"d":-33},{"f":5.017,"d":-60},{"f":5.021,"d":-35},{"f":5.025,"d":-55},{"f":5.029,"d":-38},{"f":5.033,"d":-65},
      {"f":5.038,"d":-80},{"f":5.042,"d":-60},{"f":5.046,"d":-110},{"f":5.05,"d":-90},{"f":5.054,"d":-150},{"f":5.058,"d":-120},{"f":5.062,"d":-190},{"f":5.066,"d":-160},{"f":5.07,"d":-230},{"f":5.074,"d":-200},{"f":5.078,"d":-262},{"f":5.3,"d":-262},{"f":5.318,"d":-250},{"f":5.32,"d":-200},{"f":5.322,"d":-150},{"f":5.324,"d":-100},{"f":5.326,"d":-60},
      {"f":5.33,"d":-35},{"f":5.333,"d":-60},{"f":5.336,"d":-30},{"f":5.339,"d":-100},{"f":5.342,"d":-40},{"f":5.345,"d":-140},{"f":5.348,"d":-50},{"f":5.351,"d":-130},{"f":5.354,"d":-45},{"f":5.357,"d":-120},{"f":5.36,"d":-55},{"f":5.363,"d":-110},{"f":5.366,"d":-40},{"f":5.369,"d":-90},{"f":5.372,"d":-35},{"f":5.375,"d":-70},{"f":5.378,"d":-30},{"f":5.381,"d":-85},{"f":5.384,"d":-28},{"f":5.387,"d":-75},{"f":5.39,"d":-30},{"f":5.393,"d":-80},{"f":5.396,"d":-28},{"f":5.399,"d":-65},{"f":5.402,"d":-25},{"f":5.405,"d":-75},{"f":5.408,"d":-30},{"f":5.411,"d":-60},{"f":5.414,"d":-28},{"f":5.417,"d":-70},{"f":5.42,"d":-30},{"f":5.423,"d":-65},{"f":5.426,"d":-32},{"f":5.429,"d":-78},{"f":5.432,"d":-35},{"f":5.435,"d":-80},{"f":5.438,"d":-30},{"f":5.441,"d":-70},{"f":5.444,"d":-32},{"f":5.447,"d":-60},{"f":5.45,"d":-28},{"f":5.453,"d":-75},{"f":5.456,"d":-30},{"f":5.459,"d":-65},{"f":5.462,"d":-28},{"f":5.465,"d":-70},{"f":5.468,"d":-30},{"f":5.471,"d":-80},{"f":5.474,"d":-35},{"f":5.478,"d":-85},{"f":5.482,"d":-40},{"f":5.486,"d":-262},{"f":5.49,"d":-262},{"f":5.494,"d":-45},{"f":5.498,"d":-30},{"f":5.501,"d":-70},{"f":5.504,"d":-32},{"f":5.507,"d":-85},{"f":5.51,"d":-30},{"f":5.513,"d":-90},{"f":5.516,"d":-35},{"f":5.519,"d":-80},{"f":5.522,"d":-40},{"f":5.526,"d":-262},{"f":6.2,"d":-330},
      {"f":6.7,"d":-300},{"f":6.72,"d":-262},{"f":6.728,"d":-220},{"f":6.733,"d":-240},{"f":6.738,"d":-180},{"f":6.743,"d":-200},{"f":6.748,"d":-140},{"f":6.753,"d":-160},{"f":6.758,"d":-100},{"f":6.763,"d":-120},{"f":6.768,"d":-70},{"f":6.773,"d":-90},{"f":6.778,"d":-50},{"f":6.785,"d":-60},{"f":6.792,"d":-35},{"f":6.8,"d":-45},
      {"f":6.81,"d":-30},{"f":6.818,"d":-60},{"f":6.828,"d":-91},{"f":6.836,"d":-50},{"f":6.844,"d":-32},{"f":6.852,"d":-45},{"f":6.86,"d":-30},{"f":6.868,"d":-55},{"f":6.876,"d":-35},{"f":6.884,"d":-70},{"f":6.892,"d":-38},{"f":6.9,"d":-60},{"f":6.908,"d":-32},{"f":6.916,"d":-50},{"f":6.924,"d":-35},{"f":6.932,"d":-70},{"f":6.94,"d":-45},{"f":6.945,"d":-85},{"f":6.952,"d":-48},{"f":6.96,"d":-32},{"f":6.968,"d":-50},{"f":6.976,"d":-30},{"f":6.984,"d":-45},{"f":6.992,"d":-33},{"f":7.0,"d":-60},{"f":7.008,"d":-35},{"f":7.016,"d":-48},{"f":7.024,"d":-30},{"f":7.032,"d":-55},{"f":7.04,"d":-34},{"f":7.048,"d":-45},{"f":7.056,"d":-30},{"f":7.064,"d":-62},{"f":7.072,"d":-36},{"f":7.08,"d":-50},{"f":7.088,"d":-30},{"f":7.096,"d":-45},{"f":7.104,"d":-32},{"f":7.112,"d":-55},{"f":7.12,"d":-35},{"f":7.128,"d":-48},{"f":7.136,"d":-29},{"f":7.144,"d":-40},{"f":7.152,"d":-30},{"f":7.164,"d":-61},{"f":7.172,"d":-35},{"f":7.18,"d":-45},{"f":7.188,"d":-28},{"f":7.196,"d":-42},{"f":7.204,"d":-27},{"f":7.212,"d":-38},{"f":7.22,"d":-28},{"f":7.228,"d":-45},{"f":7.236,"d":-30},{"f":7.244,"d":-40},{"f":7.252,"d":-28},{"f":7.26,"d":-50},{"f":7.268,"d":-32},{"f":7.276,"d":-44},{"f":7.284,"d":-30},{"f":7.292,"d":-55},{"f":7.3,"d":-33},{"f":7.308,"d":-45},{"f":7.316,"d":-30},{"f":7.324,"d":-60},{"f":7.332,"d":-34},{"f":7.34,"d":-50},{"f":7.348,"d":-30},{"f":7.356,"d":-45},{"f":7.364,"d":-32},{"f":7.372,"d":-58},{"f":7.38,"d":-35},{"f":7.388,"d":-48},{"f":7.396,"d":-30},{"f":7.404,"d":-62},{"f":7.412,"d":-36},{"f":7.42,"d":-50},{"f":7.428,"d":-31},{"f":7.436,"d":-70},{"f":7.444,"d":-40},{"f":7.452,"d":-85},{"f":7.46,"d":-45},{"f":7.468,"d":-35},{"f":7.476,"d":-55},{"f":7.484,"d":-30},{"f":7.492,"d":-50},{"f":7.5,"d":-33},{"f":7.508,"d":-60},{"f":7.516,"d":-35},{"f":7.524,"d":-45},{"f":7.532,"d":-30},{"f":7.54,"d":-55},{"f":7.548,"d":-34},{"f":7.556,"d":-48},{"f":7.564,"d":-30},{"f":7.572,"d":-60},{"f":7.58,"d":-38},{"f":7.588,"d":-70},{"f":7.596,"d":-45},{"f":7.603,"d":-85},{"f":7.61,"d":-45},{"f":7.618,"d":-32},{"f":7.626,"d":-50},{"f":7.634,"d":-30},{"f":7.642,"d":-45},{"f":7.65,"d":-33},{"f":7.658,"d":-55},{"f":7.666,"d":-35},{"f":7.674,"d":-48},{"f":7.682,"d":-30},{"f":7.69,"d":-52},{"f":7.698,"d":-40},{"f":7.706,"d":-68},{"f":7.714,"d":-38},{"f":7.722,"d":-50},{"f":7.73,"d":-30},{"f":7.738,"d":-45},{"f":7.746,"d":-30},{"f":7.754,"d":-40},{"f":7.762,"d":-28},{"f":7.77,"d":-45},{"f":7.778,"d":-32},{"f":7.786,"d":-40},{"f":7.794,"d":-30},{"f":7.802,"d":-50},{"f":7.808,"d":-57},{"f":7.816,"d":-35},{"f":7.824,"d":-28},{"f":7.832,"d":-40},{"f":7.84,"d":-30},{"f":7.848,"d":-50},{"f":7.856,"d":-33},{"f":7.864,"d":-45},{"f":7.872,"d":-31},{"f":7.88,"d":-55},{"f":7.888,"d":-35},{"f":7.896,"d":-48},{"f":7.904,"d":-32},{"f":7.912,"d":-50},{"f":7.92,"d":-35},{"f":7.928,"d":-60},{"f":7.936,"d":-38},{"f":7.944,"d":-48},{"f":7.955,"d":-65},{"f":7.962,"d":-40},{"f":7.97,"d":-50},{"f":7.978,"d":-33},{"f":7.986,"d":-55},{"f":7.994,"d":-36},{"f":8.002,"d":-60},{"f":8.01,"d":-38},{"f":8.018,"d":-70},{"f":8.026,"d":-45},{"f":8.034,"d":-80},{"f":8.042,"d":-91},{"f":8.05,"d":-50},{"f":8.058,"d":-38},{"f":8.066,"d":-60},{"f":8.074,"d":-40},{"f":8.082,"d":-75},{"f":8.09,"d":-45},{"f":8.098,"d":-90},{"f":8.106,"d":-55},{"f":8.114,"d":-100},{"f":8.122,"d":-60},{"f":8.13,"d":-142},{"f":8.136,"d":-80},{"f":8.142,"d":-120},{"f":8.148,"d":-60},
      {"f":8.152,"d":-100},{"f":8.156,"d":-80},{"f":8.16,"d":-150},{"f":8.164,"d":-120},{"f":8.168,"d":-190},{"f":8.172,"d":-160},{"f":8.176,"d":-230},{"f":8.18,"d":-200},{"f":8.185,"d":-262},{"f":8.29,"d":-262},{"f":8.31,"d":-250},{"f":8.314,"d":-200},{"f":8.318,"d":-150},{"f":8.322,"d":-110},{"f":8.326,"d":-70},{"f":8.33,"d":-40},
      {"f":8.336,"d":-146},{"f":8.342,"d":-50},{"f":8.35,"d":-32},{"f":8.358,"d":-80},{"f":8.366,"d":-40},{"f":8.374,"d":-110},{"f":8.382,"d":-45},{"f":8.39,"d":-30},{"f":8.398,"d":-70},{"f":8.406,"d":-35},{"f":8.414,"d":-150},{"f":8.423,"d":-226},{"f":8.43,"d":-60},{"f":8.438,"d":-40},{"f":8.446,"d":-100},{"f":8.452,"d":-159},{"f":8.46,"d":-50},{"f":8.468,"d":-32},{"f":8.474,"d":-90},{"f":8.481,"d":-120},{"f":8.49,"d":-40},{"f":8.498,"d":-30},{"f":8.506,"d":-60},{"f":8.514,"d":-35},{"f":8.522,"d":-90},{"f":8.53,"d":-40},{"f":8.538,"d":-28},{"f":8.546,"d":-70},{"f":8.554,"d":-35},{"f":8.562,"d":-100},{"f":8.57,"d":-45},{"f":8.578,"d":-30},{"f":8.586,"d":-65},{"f":8.594,"d":-35},{"f":8.602,"d":-80},{"f":8.61,"d":-40},{"f":8.618,"d":-30},{"f":8.626,"d":-70},{"f":8.634,"d":-45},{"f":8.642,"d":-119},{"f":8.65,"d":-50},{"f":8.658,"d":-32},{"f":8.666,"d":-75},{"f":8.674,"d":-38},{"f":8.682,"d":-90},{"f":8.69,"d":-40},{"f":8.698,"d":-30},{"f":8.706,"d":-60},{"f":8.714,"d":-35},{"f":8.722,"d":-80},{"f":8.73,"d":-40},{"f":8.738,"d":-95},{"f":8.745,"d":-104},{"f":8.752,"d":-45},{"f":8.76,"d":-32},{"f":8.768,"d":-70},{"f":8.776,"d":-38},{"f":8.784,"d":-85},{"f":8.792,"d":-40},{"f":8.8,"d":-33},{"f":8.808,"d":-65},{"f":8.816,"d":-38},{"f":8.824,"d":-90},{"f":8.832,"d":-45},{"f":8.84,"d":-100},{"f":8.848,"d":-114},{"f":8.856,"d":-50},{"f":8.864,"d":-38},{"f":8.872,"d":-80},{"f":8.88,"d":-50},{"f":8.891,"d":-127},{"f":8.9,"d":-80},{"f":8.91,"d":-140},{"f":8.92,"d":-100},{"f":8.93,"d":-170},{"f":8.94,"d":-120},{"f":8.949,"d":-163},{"f":8.956,"d":-60},{"f":8.962,"d":-30},{"f":8.968,"d":-226},{"f":8.974,"d":-40},{"f":8.98,"d":-28},{"f":8.986,"d":-120},{"f":8.992,"d":-30},{"f":8.998,"d":-250},{"f":9.004,"d":-35},{"f":9.01,"d":-30},{"f":9.016,"d":-200},{"f":9.022,"d":-40},{"f":9.03,"d":-32},{"f":9.038,"d":-245},{"f":9.044,"d":-40},{"f":9.052,"d":-35},{"f":9.06,"d":-180},{"f":9.066,"d":-45},{"f":9.072,"d":-240},{"f":9.08,"d":-50},{"f":9.088,"d":-230},{"f":9.096,"d":-60},{"f":9.102,"d":-250},{"f":9.11,"d":-262}
    ],
    "cut": [
      {"f": 4.393, "name": "fc,beampipe[TE11]"},
      {"f": 5.737, "name": "fc,beampipe[TM01]"},
      {"f": 7.287, "name": "fc,beampipe[TE21]"}
    ]
  },
  "encoding": {
    "x": {"field": "f", "type": "quantitative", "scale": {"domain": [4.109, 11.05], "nice": false, "zero": false}, "axis": null}
  },
  "layer": [
    {
      "data": {"name": "s6"},
      "mark": {"type": "line", "color": "#0000ff", "strokeWidth": 1.6, "clip": true},
      "encoding": {
        "x": {"field": "f", "type": "quantitative", "scale": {"domain": [4.109, 11.05], "nice": false, "zero": false},
              "axis": {"orient": "bottom", "values": [5, 6, 7, 8, 9, 10, 11], "title": "ω/2π (GHz)", "grid": true, "labelPadding": 9, "titlePadding": 5}},
        "y": {"field": "d", "type": "quantitative", "scale": {"domain": [-250, 0], "nice": false, "zero": false},
              "axis": {"orient": "left", "values": [-250, -200, -150, -100, -50, 0], "title": "S-Parameter (dB)", "titleFont": "DejaVu Serif", "titleFontSize": 22, "grid": true, "labelPadding": 9, "titlePadding": 6}}
      }
    },
    {
      "data": {"name": "s6"},
      "mark": {"type": "point", "shape": "circle", "filled": true, "size": 64, "fill": "#0000ff", "stroke": "#000", "strokeWidth": 1.3, "opacity": 1, "clip": true},
      "encoding": {
        "x": {"field": "f", "type": "quantitative", "axis": {"orient": "top", "values": [5, 6, 7, 8, 9, 10, 11], "labels": false, "title": null, "grid": false}},
        "y": {"field": "d", "type": "quantitative", "axis": {"orient": "right", "values": [-250, -200, -150, -100, -50, 0], "labels": false, "title": null, "grid": false}}
      }
    },
    {
      "data": {"name": "s12"},
      "mark": {"type": "line", "color": "#008000", "strokeWidth": 1.6, "clip": true},
      "encoding": {"y": {"field": "d", "type": "quantitative", "axis": null}}
    },
    {
      "data": {"name": "s12"},
      "mark": {"type": "point", "shape": "square", "filled": true, "size": 44, "fill": "#008000", "stroke": "#000", "strokeWidth": 1.2, "opacity": 1, "clip": true},
      "encoding": {"y": {"field": "d", "type": "quantitative", "axis": null}}
    },
    {
      "data": {"name": "s18"},
      "mark": {"type": "line", "color": "#ff0000", "strokeWidth": 1.6, "clip": true},
      "encoding": {"y": {"field": "d", "type": "quantitative", "axis": null}}
    },
    {
      "data": {"name": "s18"},
      "mark": {"type": "point", "shape": "M0,-1L0.22,-0.31L0.95,-0.31L0.36,0.12L0.59,0.81L0,0.38L-0.59,0.81L-0.36,0.12L-0.95,-0.31L-0.22,-0.31Z", "filled": true, "size": 60, "fill": "#ff0000", "stroke": "#000", "strokeWidth": 0.8, "opacity": 1, "clip": true},
      "encoding": {"y": {"field": "d", "type": "quantitative", "axis": null}}
    },
    {
      "data": {"name": "s24"},
      "mark": {"type": "line", "color": "#00bfbf", "strokeWidth": 1.8, "clip": true},
      "encoding": {"y": {"field": "d", "type": "quantitative", "axis": null}}
    },
    {
      "data": {"name": "s24"},
      "mark": {"type": "point", "shape": "M-1,-1L1,1M-1,1L1,-1", "filled": false, "size": 40, "stroke": "#00bfbf", "strokeWidth": 1.2, "opacity": 1, "clip": true},
      "encoding": {"y": {"field": "d", "type": "quantitative", "axis": null}}
    },
    {
      "data": {"name": "cut"},
      "mark": {"type": "rule", "strokeWidth": 2.6, "strokeDash": [9, 7], "clip": true},
      "encoding": {
        "color": {
          "field": "name", "type": "nominal",
          "scale": {
            "domain": ["S6_C2H2:1_C1H1", "S12_C4H2:1_C1H1", "S18_C6H2:1_C1H1", "S24_C8H2:1_C1H1", "fc,beampipe[TE11]", "fc,beampipe[TM01]", "fc,beampipe[TE21]"],
            "range": ["#0000ff", "#008000", "#ff0000", "#00bfbf", "#0000ff", "#008000", "#ff0000"]
          },
          "legend": {
            "title": null, "orient": "top-right", "offset": 2, "padding": 6,
            "fillColor": "white", "strokeColor": "#000", "cornerRadius": 0,
            "labelFont": "DejaVu Serif", "labelFontSize": 17, "labelFontStyle": "italic", "labelColor": "#000", "labelLimit": 220,
            "rowPadding": 13, "symbolSize": 130, "symbolStrokeWidth": 2, "symbolOffset": 7, "labelOffset": 7,
            "encode": {
              "symbols": {
                "update": {
                  "shape": {"signal": "['M-2.2,0H-0.75M0.75,0H2.2M0.75,0A0.75,0.75 0 1,1 -0.75,0A0.75,0.75 0 1,1 0.75,0Z','M-2.2,0H-0.6M0.6,0H2.2M-0.6,-0.6H0.6V0.6H-0.6Z','M-2.2,0H-0.55M0.55,0H2.2M0,-0.6L0.13,-0.19L0.57,-0.19L0.22,0.07L0.35,0.49L0,0.23L-0.35,0.49L-0.22,0.07L-0.57,-0.19L-0.13,-0.19Z','M-2.2,0H2.2M-0.5,-0.5L0.5,0.5M-0.5,0.5L0.5,-0.5','M-2.2,0H-0.9M0.6,0H1.9','M-2.2,0H-0.9M0.6,0H1.9','M-2.2,0H-0.9M0.6,0H1.9'][indexof(['S6_C2H2:1_C1H1','S12_C4H2:1_C1H1','S18_C6H2:1_C1H1','S24_C8H2:1_C1H1','fc,beampipe[TE11]','fc,beampipe[TM01]','fc,beampipe[TE21]'], datum.value)]"},
                  "fill": {"scale": "color", "field": "value"},
                  "stroke": {"scale": "color", "field": "value"},
                  "strokeDash": {"value": [1, 0]},
                  "opacity": {"value": 1}
                }
              }
            }
          }
        }
      }
    }
  ],
  "resolve": {"axis": {"x": "independent", "y": "independent"}}
}
